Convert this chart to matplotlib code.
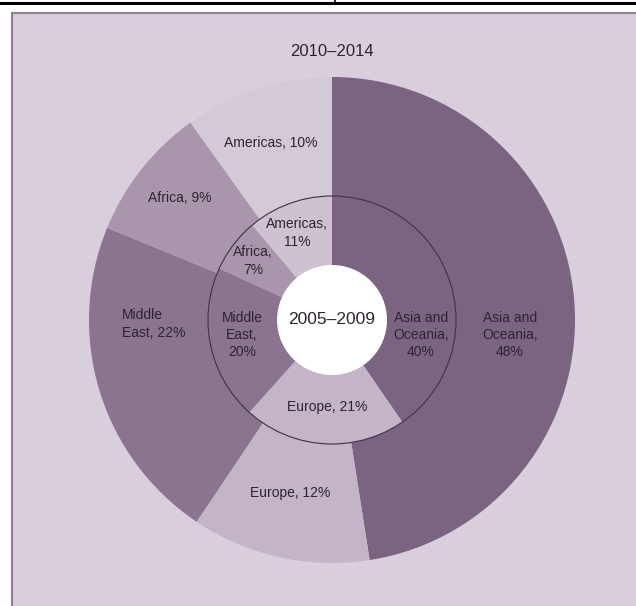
import matplotlib.pyplot as plt
from matplotlib.patches import Circle, Rectangle

# arms import shares by region, two periods
regions = ["Asia and Oceania", "Europe", "Middle East", "Africa", "Americas"]
share_2010_2014 = [48, 12, 22, 9, 10]
share_2005_2009 = [40, 21, 20, 7, 11]

# how each label is broken over lines in the two rings
outer_names = ["Asia and\nOceania,\n", "Europe, ", "Middle\nEast, ", "Africa, ", "Americas, "]
inner_names = ["Asia and\nOceania,\n", "Europe, ", "Middle\nEast,\n", "Africa,\n", "Americas,\n"]

outer_colors = ["#7a6482", "#c3b5c7", "#8a7490", "#a996ad", "#d4c9d7"]
inner_colors = ["#7a6482", "#c3b5c7", "#8a7490", "#a996ad", "#cec2d1"]

W, H = 636, 606
CX, CY = 332, 320          # centre, picture pixels (y down)
R_OUT, R_IN, R_HOLE = 243, 124, 55
TXT = "#2d2433"


def py(y):
    # picture y (down) -> axes y (up)
    return H - y


fig = plt.figure(figsize=(W / 100, H / 100), dpi=100)
ax = fig.add_axes([0, 0, 1, 1])

# panel background with the grey frame
ax.add_patch(Rectangle((12, py(640)), 700, 627, facecolor="#d9cfdc",
                       edgecolor="#8c8490", linewidth=1.5, zorder=0))
ax.plot([0, W], [py(3), py(3)], color="black", linewidth=2.2, zorder=1)
ax.plot([335, 335], [py(0), py(4)], color="black", linewidth=1.2, zorder=1)

ax.pie(share_2010_2014, radius=R_OUT, center=(CX, py(CY)), startangle=90,
       counterclock=False, colors=outer_colors,
       wedgeprops=dict(width=R_OUT - R_IN, linewidth=0))
ax.pie(share_2005_2009, radius=R_IN, center=(CX, py(CY)), startangle=90,
       counterclock=False, colors=inner_colors,
       wedgeprops=dict(width=R_IN - R_HOLE + 2, linewidth=0))
ax.add_patch(Circle((CX, py(CY)), R_IN, fill=False, edgecolor="#3e3045",
                    linewidth=0.8, zorder=3))
ax.add_patch(Circle((CX, py(CY)), R_HOLE, facecolor="white",
                    edgecolor="none", zorder=3))

font = dict(family="Liberation Sans", color=TXT, zorder=5)

outer_pos = [(510, 335, "center"), (290, 493, "center"), (122, 324, "left"),
             (180, 198, "center"), (271, 143, "center")]
inner_pos = [(421, 335, "center"), (327, 407, "center"), (242, 335, "center"),
             (253, 261, "center"), (297, 233, "center")]

for name, v, (x, y, ha) in zip(outer_names, share_2010_2014, outer_pos):
    ax.text(x, py(y), f"{name}{v}%", ha=ha, va="center", fontsize=10,
            linespacing=1.3, multialignment=ha, **font)
for name, v, (x, y, ha) in zip(inner_names, share_2005_2009, inner_pos):
    ax.text(x, py(y), f"{name}{v}%", ha=ha, va="center", fontsize=10,
            linespacing=1.3, multialignment=ha, **font)

ax.text(CX, py(52), "2010\u20132014", ha="center", va="center", fontsize=12, **font)
ax.text(CX, py(CY), "2005\u20132009", ha="center", va="center", fontsize=12.5, **font)

ax.set_xlim(0, W)
ax.set_ylim(0, H)
ax.axis("off")
fig.savefig("out.png", dpi=100)
